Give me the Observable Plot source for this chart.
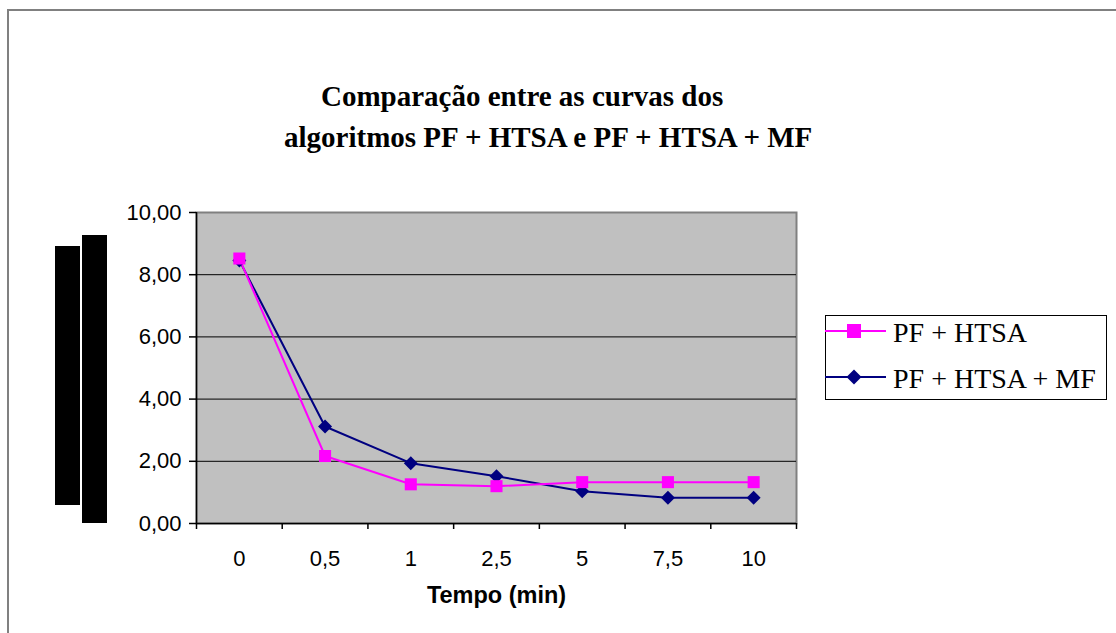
<!DOCTYPE html>
<html><head><meta charset="utf-8">
<script src="https://cdn.jsdelivr.net/npm/d3@7"></script>
<script src="https://cdn.jsdelivr.net/npm/@observablehq/plot@0.6"></script>
<style>
body{margin:0;background:#fff;}
#wrap{position:relative;width:1116px;height:633px;overflow:hidden;background:#fff;}
#wrap > *{position:absolute;left:0;top:0;}
#border{left:7px;top:9px;width:1200px;height:700px;border-left:2px solid #808080;border-top:2px solid #808080;}
.bar{background:#000;}
</style></head><body>
<div id="wrap">
  <div id="border"></div>
  <div class="bar" style="left:55px;top:246px;width:25px;height:259px;"></div>
  <div class="bar" style="left:82px;top:235px;width:25px;height:288px;"></div>
  <div id="chart"></div>
  <svg id="overlay" width="1116" height="633" style="pointer-events:none"></svg>
</div>
<script>
// ---- data ----
const categories = ["0", "0,5", "1", "2,5", "5", "7,5", "10"];
const pfHtsa     = [8.52, 2.17, 1.26, 1.20, 1.33, 1.33, 1.33];
const pfHtsaMf   = [8.46, 3.12, 1.94, 1.52, 1.04, 0.83, 0.83];
const yTicks     = [0, 2, 4, 6, 8, 10];
const seriesNames = ["PF + HTSA", "PF + HTSA + MF"];
const titleLines = ["Comparação entre as curvas dos", "algoritmos PF + HTSA e PF + HTSA + MF"];
const xTitle = "Tempo (min)";

const idx = d3.range(categories.length);
const boundaries = d3.range(categories.length + 1).map(i => i - 0.5);
const fmt = v => v.toFixed(2).replace(".", ",");

const chart = Plot.plot({
  width: 1116, height: 633,
  marginLeft: 196, marginRight: 320, marginTop: 212, marginBottom: 110,
  style: {fontFamily: "'Liberation Sans', Arial, sans-serif", fontSize: "22px", color: "#000", background: "transparent", overflow: "visible"},
  x: {type: "linear", domain: [-0.5, categories.length - 0.5]},
  y: {domain: [0, 10]},
  marks: [
    Plot.frame({fill: "#c0c0c0", stroke: "#808080", strokeWidth: 2}),
    Plot.ruleY(yTicks.filter(v => v > 0 && v < 10), {stroke: "#000", strokeWidth: 1}),
    Plot.ruleX([-0.5], {stroke: "#000", strokeWidth: 1.5}),
    Plot.ruleY([0], {stroke: "#000", strokeWidth: 1.5}),
    Plot.axisY({ticks: yTicks, tickSize: 7, tickPadding: 8, tickFormat: fmt, label: null, strokeWidth: 1.5, fontSize: 22}),
    Plot.axisX({ticks: boundaries, tickSize: 6, tickFormat: () => "", label: null, strokeWidth: 1.5}),
    Plot.axisX({ticks: idx, tickSize: 0, tickPadding: 27, tickFormat: i => categories[i], label: null, fontSize: 22}),
    Plot.line(idx, {x: i => i, y: i => pfHtsaMf[i], stroke: "#000080", strokeWidth: 2}),
    Plot.line(idx, {x: i => i, y: i => pfHtsa[i], stroke: "#ff00ff", strokeWidth: 2}),
    Plot.dot(idx, {x: i => i, y: i => pfHtsaMf[i], symbol: "diamond2", r: 6.3, fill: "#000080", stroke: "none"}),
    Plot.dot(idx, {x: i => i, y: i => pfHtsa[i], symbol: "square", r: 6.8, fill: "#ff00ff", stroke: "none"}),
    Plot.text([xTitle], {frameAnchor: "bottom", dy: 79, fontWeight: "bold", fontSize: 23.5, fill: "#000"})
  ]
});
document.getElementById("chart").appendChild(chart);

// ---- title and legend overlay ----
const ov = d3.select("#overlay");
const serif = "'Liberation Serif', 'Times New Roman', serif";
ov.append("text").attr("x", 321).attr("y", 106).attr("font-family", serif).attr("font-weight", "bold")
  .attr("font-size", 29).text(titleLines[0]);
ov.append("text").attr("x", 284).attr("y", 147).attr("font-family", serif).attr("font-weight", "bold")
  .attr("font-size", 29).text(titleLines[1]);

const lg = ov.append("g");
lg.append("rect").attr("x", 825.5).attr("y", 315.5).attr("width", 281).attr("height", 84)
  .attr("fill", "#fff").attr("stroke", "#000").attr("stroke-width", 1);
const colors = ["#ff00ff", "#000080"];
const ys = [331, 377];
seriesNames.forEach((name, k) => {
  lg.append("line").attr("x1", 825).attr("x2", 886).attr("y1", ys[k]).attr("y2", ys[k])
    .attr("stroke", colors[k]).attr("stroke-width", 2);
  if (k === 0) {
    lg.append("rect").attr("x", 847).attr("y", ys[k] - 7).attr("width", 14).attr("height", 14).attr("fill", colors[k]);
  } else {
    lg.append("path").attr("d", `M854,${ys[k]-7.5}L861.5,${ys[k]}L854,${ys[k]+7.5}L846.5,${ys[k]}Z`).attr("fill", colors[k]);
  }
  lg.append("text").attr("x", 893).attr("y", ys[k] + 11).attr("font-family", serif).attr("font-size", 28)
    .attr("fill", "#000").text(name);
});
</script>
</body></html>
